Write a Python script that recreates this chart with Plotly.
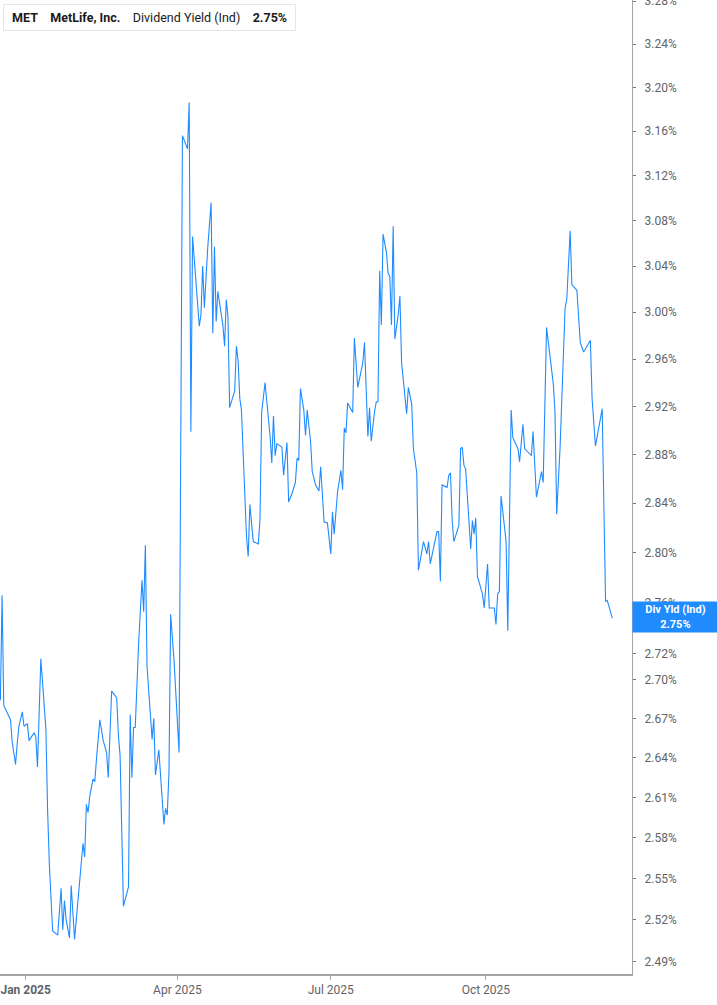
import plotly.graph_objects as go
import numpy as np

# MetLife (MET) indicated dividend yield, %
dates = [
    "2024-12-17", "2024-12-18", "2024-12-19", "2024-12-23", "2024-12-24", "2024-12-26", "2024-12-27",
    "2024-12-28", "2024-12-30", "2024-12-31", "2025-01-02", "2025-01-03", "2025-01-05", "2025-01-06",
    "2025-01-07", "2025-01-08", "2025-01-10", "2025-01-11", "2025-01-13", "2025-01-14", "2025-01-15",
    "2025-01-17", "2025-01-20", "2025-01-22", "2025-01-23", "2025-01-24", "2025-01-25", "2025-01-27",
    "2025-01-28", "2025-01-30", "2025-02-01", "2025-02-02", "2025-02-04", "2025-02-05", "2025-02-06",
    "2025-02-07", "2025-02-08", "2025-02-10", "2025-02-11", "2025-02-12", "2025-02-14", "2025-02-15",
    "2025-02-16", "2025-02-18", "2025-02-19", "2025-02-21", "2025-02-24", "2025-02-25", "2025-02-26",
    "2025-02-28", "2025-03-03", "2025-03-04", "2025-03-05", "2025-03-06", "2025-03-07", "2025-03-09",
    "2025-03-11", "2025-03-12", "2025-03-13", "2025-03-14", "2025-03-17", "2025-03-18", "2025-03-19",
    "2025-03-21", "2025-03-23", "2025-03-24", "2025-03-25", "2025-03-26", "2025-03-27", "2025-03-28",
    "2025-03-30", "2025-04-02", "2025-04-04", "2025-04-07", "2025-04-08", "2025-04-09", "2025-04-10",
    "2025-04-12", "2025-04-14", "2025-04-15", "2025-04-16", "2025-04-17", "2025-04-19", "2025-04-21",
    "2025-04-22", "2025-04-23", "2025-04-24", "2025-04-25", "2025-04-26", "2025-04-28", "2025-04-29",
    "2025-04-30", "2025-05-01", "2025-05-02", "2025-05-05", "2025-05-06", "2025-05-07", "2025-05-08",
    "2025-05-09", "2025-05-11", "2025-05-12", "2025-05-13", "2025-05-14", "2025-05-16", "2025-05-19",
    "2025-05-20", "2025-05-21", "2025-05-23", "2025-05-26", "2025-05-27", "2025-05-28", "2025-05-29",
    "2025-05-30", "2025-06-02", "2025-06-03", "2025-06-05", "2025-06-06", "2025-06-08", "2025-06-10",
    "2025-06-11", "2025-06-12", "2025-06-13", "2025-06-15", "2025-06-16", "2025-06-17", "2025-06-19",
    "2025-06-20", "2025-06-22", "2025-06-24", "2025-06-25", "2025-06-27", "2025-06-29", "2025-07-01",
    "2025-07-02", "2025-07-03", "2025-07-05", "2025-07-07", "2025-07-08", "2025-07-09", "2025-07-10",
    "2025-07-11", "2025-07-14", "2025-07-15", "2025-07-17", "2025-07-20", "2025-07-21", "2025-07-23",
    "2025-07-24", "2025-07-25", "2025-07-27", "2025-07-28", "2025-07-29", "2025-07-30", "2025-07-31",
    "2025-08-01", "2025-08-03", "2025-08-04", "2025-08-05", "2025-08-06", "2025-08-07", "2025-08-08",
    "2025-08-10", "2025-08-11", "2025-08-12", "2025-08-14", "2025-08-15", "2025-08-16", "2025-08-18",
    "2025-08-19", "2025-08-21", "2025-08-22", "2025-08-25", "2025-08-27", "2025-08-28", "2025-08-29",
    "2025-08-31", "2025-09-02", "2025-09-03", "2025-09-04", "2025-09-05", "2025-09-08", "2025-09-09",
    "2025-09-10", "2025-09-11", "2025-09-12", "2025-09-15", "2025-09-16", "2025-09-17", "2025-09-18",
    "2025-09-19", "2025-09-22", "2025-09-23", "2025-09-24", "2025-09-25", "2025-09-26", "2025-09-29",
    "2025-09-30", "2025-10-02", "2025-10-03", "2025-10-06", "2025-10-07", "2025-10-08", "2025-10-09",
    "2025-10-10", "2025-10-13", "2025-10-14", "2025-10-16", "2025-10-17", "2025-10-20", "2025-10-21",
    "2025-10-23", "2025-10-24", "2025-10-28", "2025-10-29", "2025-10-31", "2025-11-03", "2025-11-04",
    "2025-11-06", "2025-11-08", "2025-11-10", "2025-11-11", "2025-11-12", "2025-11-14", "2025-11-17",
    "2025-11-18", "2025-11-20", "2025-11-21", "2025-11-24", "2025-11-26", "2025-11-28", "2025-12-02",
    "2025-12-03", "2025-12-05", "2025-12-09", "2025-12-11", "2025-12-12", "2025-12-15",
]

div_yield = [
    2.684, 2.766, 2.680, 2.669, 2.652, 2.635, 2.651,
    2.664, 2.675, 2.664, 2.666, 2.653, 2.657, 2.659,
    2.656, 2.633, 2.716, 2.695, 2.662, 2.601, 2.562,
    2.512, 2.509, 2.543, 2.513, 2.534, 2.520, 2.507,
    2.545, 2.506, 2.532, 2.550, 2.576, 2.566, 2.605,
    2.599, 2.611, 2.624, 2.622, 2.639, 2.669, 2.661,
    2.653, 2.644, 2.625, 2.691, 2.686, 2.657, 2.642,
    2.530, 2.544, 2.673, 2.625, 2.663, 2.663, 2.728,
    2.778, 2.753, 2.806, 2.710, 2.654, 2.670, 2.627,
    2.646, 2.608, 2.590, 2.602, 2.597, 2.629, 2.751,
    2.715, 2.644, 3.156, 3.144, 3.186, 2.899, 3.066,
    3.028, 2.988, 2.998, 3.040, 3.004, 3.056, 3.096,
    2.982, 3.057, 2.992, 3.018, 3.008, 2.989, 2.971,
    3.011, 2.996, 2.919, 2.933, 2.971, 2.959, 2.927,
    2.917, 2.838, 2.813, 2.797, 2.839, 2.809, 2.807,
    2.827, 2.915, 2.940, 2.895, 2.873, 2.912, 2.879,
    2.889, 2.886, 2.863, 2.890, 2.841, 2.848, 2.857,
    2.877, 2.875, 2.935, 2.917, 2.896, 2.917, 2.891,
    2.866, 2.855, 2.850, 2.870, 2.825, 2.824, 2.799,
    2.833, 2.815, 2.849, 2.867, 2.851, 2.902, 2.898,
    2.923, 2.915, 2.978, 2.936, 2.957, 2.974, 2.895,
    2.919, 2.891, 2.916, 2.924, 2.924, 3.036, 2.989,
    3.068, 3.052, 3.034, 3.031, 2.989, 3.075, 2.977,
    2.998, 3.014, 2.957, 2.927, 2.914, 2.936, 2.922,
    2.885, 2.865, 2.786, 2.809, 2.799, 2.809, 2.791,
    2.805, 2.817, 2.817, 2.777, 2.855, 2.853, 2.863,
    2.865, 2.826, 2.809, 2.822, 2.885, 2.886, 2.871,
    2.868, 2.803, 2.826, 2.815, 2.828, 2.781, 2.767,
    2.756, 2.791, 2.756, 2.756, 2.743, 2.767, 2.769,
    2.846, 2.809, 2.738, 2.917, 2.894, 2.885, 2.874,
    2.905, 2.885, 2.879, 2.899, 2.845, 2.866, 2.857,
    2.987, 2.963, 2.939, 2.916, 2.831, 2.885, 3.004,
    3.011, 3.071, 3.024, 3.019, 2.974, 2.966, 2.976,
    2.927, 2.887, 2.918, 2.761, 2.762, 2.748,
]

y_ticks = [2.49, 2.52, 2.55, 2.58, 2.61, 2.64, 2.67, 2.70, 2.72, 2.76, 2.80, 2.84, 2.88,
           2.92, 2.96, 3.00, 3.04, 3.08, 3.12, 3.16, 3.20, 3.24, 3.28]
x_ticks = ["2025-01-01", "2025-04-01", "2025-07-01", "2025-10-01"]
x_labels = ["<b>Jan 2025</b>", "Apr 2025", "Jul 2025", "Oct 2025"]

ticker = "MET"
company = "MetLife, Inc."
metric = "Dividend Yield (Ind)"
last_value = 2.75

BLUE = "#1f8bff"
GREY = "#5f6368"
AXIS = "#a6a6a6"
FONT = "Roboto"

fig = go.Figure()
fig.add_trace(go.Scatter(
    x=dates, y=div_yield, mode="lines",
    line=dict(color=BLUE, width=1.1),
    showlegend=False, hoverinfo="x+y",
))

# right-hand value tag (covers the nearby 2.76% tick label, as in the original)
fig.add_annotation(
    xref="paper", yref="y", x=1, y=np.log10(div_yield[-1]),
    xanchor="left", yanchor="middle", yshift=1,
    text=f"<b>Div Yld (Ind)</b><br><b>{last_value:.2f}%</b>",
    showarrow=False, align="center",
    font=dict(family=FONT, size=11, color="white"),
    bgcolor=BLUE, width=83, height=28, borderpad=1,
)

# legend chip top-left
sp = "&nbsp;" * 4
pad = "&nbsp;"
fig.add_annotation(
    xref="paper", yref="paper", x=0.005, y=0.996,
    xanchor="left", yanchor="top",
    text=f"{pad}<b>{ticker}</b>{sp}<b>{company}</b>{sp}{metric}{sp}<b>{last_value:.2f}%</b>{pad}",
    showarrow=False,
    font=dict(family=FONT, size=12.5, color="#1a1a1a"),
    bgcolor="white", bordercolor="#e6e6e6", borderwidth=1, borderpad=5,
)
fig.add_shape(
    type="rect", xref="paper", yref="paper",
    x0=0.0058, x1=0.0105, y0=0.9700, y1=0.9950,
    fillcolor=BLUE, line_width=0,
)

fig.update_xaxes(
    type="date",
    range=["2024-12-16 18:30", "2025-12-26 16:30"],
    tickvals=x_ticks, ticktext=x_labels,
    showgrid=False, zeroline=False, automargin=False,
    showline=True, linecolor=AXIS, linewidth=1.5,
    ticks="outside", ticklen=4, tickcolor=AXIS,
    ticklabeloverflow="allow",
    tickfont=dict(family=FONT, size=12, color=GREY),
)
fig.update_yaxes(
    type="log", side="right",
    range=[0.394662, 0.516034],
    tickvals=y_ticks, ticktext=[f"{v:.2f}%" for v in y_ticks],
    showgrid=False, zeroline=False, automargin=False,
    showline=True, linecolor=AXIS, linewidth=1.2,
    ticks="outside", ticklen=3, tickcolor="#777777",
    ticklabelstandoff=6, ticklabeloverflow="allow",
    tickfont=dict(family=FONT, size=12, color=GREY),
)

fig.update_layout(
    width=717, height=1005,
    margin=dict(l=0, r=84.5, t=0, b=31, pad=0),
    plot_bgcolor="white", paper_bgcolor="white",
    font=dict(family=FONT),
)

# page body has an 8px default margin; drop it so the chart sits flush
fig.write_html(
    "out.html",
    config={"displayModeBar": False},
    post_script="document.body.style.margin='0';",
)
